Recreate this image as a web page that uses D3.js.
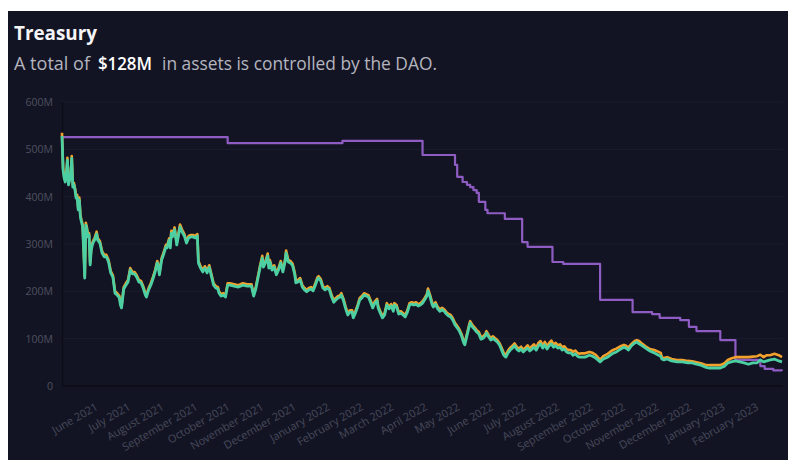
<!DOCTYPE html>
<html><head><meta charset="utf-8">
<script src="https://cdn.jsdelivr.net/npm/d3@7"></script>
<style>html,body{margin:0;padding:0;background:#fff;} svg{display:block}</style>
</head><body>
<svg id="c" width="793" height="463"></svg>
<script>
// ---------- DATA ----------
const dates = [
"2021-04-29","2021-04-30","2021-05-01","2021-05-02","2021-05-03","2021-05-04","2021-05-05","2021-05-06","2021-05-07","2021-05-08",
"2021-05-09","2021-05-10","2021-05-11","2021-05-12","2021-05-13","2021-05-14","2021-05-15","2021-05-16","2021-05-17","2021-05-18",
"2021-05-19","2021-05-20","2021-05-21","2021-05-22","2021-05-23","2021-05-24","2021-05-25","2021-05-26","2021-05-27","2021-05-28",
"2021-05-29","2021-05-30","2021-05-31","2021-06-01","2021-06-03","2021-06-05","2021-06-07","2021-06-09","2021-06-11","2021-06-13",
"2021-06-15","2021-06-17","2021-06-19","2021-06-21","2021-06-22","2021-06-23","2021-06-25","2021-06-27","2021-06-29","2021-07-01",
"2021-07-03","2021-07-05","2021-07-07","2021-07-09","2021-07-11","2021-07-13","2021-07-15","2021-07-16","2021-07-18","2021-07-20",
"2021-07-22","2021-07-24","2021-07-26","2021-07-27","2021-07-28","2021-07-30","2021-08-01","2021-08-03","2021-08-04","2021-08-06",
"2021-08-07","2021-08-08","2021-08-09","2021-08-11","2021-08-13","2021-08-15","2021-08-16","2021-08-18","2021-08-20","2021-08-22",
"2021-08-24","2021-08-26","2021-08-28","2021-08-30","2021-09-01","2021-09-02","2021-09-04","2021-09-06","2021-09-08","2021-09-10",
"2021-09-12","2021-09-14","2021-09-16","2021-09-18","2021-09-20","2021-09-21","2021-09-23","2021-09-25","2021-09-27","2021-09-29",
"2021-10-01","2021-10-05","2021-10-09","2021-10-13","2021-10-17","2021-10-21","2021-10-23","2021-10-25","2021-10-27","2021-10-29",
"2021-10-31","2021-11-01","2021-11-03","2021-11-05","2021-11-06","2021-11-07","2021-11-09","2021-11-11","2021-11-13","2021-11-15",
"2021-11-17","2021-11-19","2021-11-21","2021-11-22","2021-11-24","2021-11-26","2021-11-28","2021-11-30","2021-12-01","2021-12-03",
"2021-12-05","2021-12-07","2021-12-09","2021-12-11","2021-12-13","2021-12-15","2021-12-17","2021-12-19","2021-12-21","2021-12-22",
"2021-12-24","2021-12-26","2021-12-28","2021-12-30","2022-01-01","2022-01-03","2022-01-05","2022-01-07","2022-01-09","2022-01-11",
"2022-01-12","2022-01-14","2022-01-16","2022-01-18","2022-01-20","2022-01-22","2022-01-23","2022-01-25","2022-01-27","2022-01-29",
"2022-01-31","2022-02-02","2022-02-04","2022-02-06","2022-02-08","2022-02-10","2022-02-12","2022-02-14","2022-02-15","2022-02-17",
"2022-02-19","2022-02-21","2022-02-23","2022-02-25","2022-02-27","2022-03-01","2022-03-02","2022-03-04","2022-03-06","2022-03-08",
"2022-03-10","2022-03-12","2022-03-14","2022-03-16","2022-03-18","2022-03-20","2022-03-22","2022-03-24","2022-03-26","2022-03-28",
"2022-03-30","2022-04-01","2022-04-02","2022-04-04","2022-04-06","2022-04-07","2022-04-09","2022-04-11","2022-04-13","2022-04-15",
"2022-04-17","2022-04-19","2022-04-21","2022-04-23","2022-04-25","2022-04-27","2022-04-29","2022-05-01","2022-05-03","2022-05-05",
"2022-05-06","2022-05-08","2022-05-10","2022-05-11","2022-05-13","2022-05-15","2022-05-17","2022-05-19","2022-05-21","2022-05-23",
"2022-05-25","2022-05-26","2022-05-28","2022-05-30","2022-06-01","2022-06-03","2022-06-05","2022-06-07","2022-06-09","2022-06-11",
"2022-06-13","2022-06-15","2022-06-17","2022-06-19","2022-06-21","2022-06-23","2022-06-25","2022-06-27","2022-06-29","2022-07-01",
"2022-07-03","2022-07-05","2022-07-07","2022-07-09","2022-07-11","2022-07-13","2022-07-15","2022-07-17","2022-07-19","2022-07-21",
"2022-07-23","2022-07-25","2022-07-27","2022-07-29","2022-07-31","2022-08-02","2022-08-04","2022-08-06","2022-08-08","2022-08-10",
"2022-08-12","2022-08-14","2022-08-16","2022-08-18","2022-08-20","2022-08-22","2022-08-25","2022-08-29","2022-09-01","2022-09-04",
"2022-09-07","2022-09-08","2022-09-11","2022-09-15","2022-09-19","2022-09-23","2022-09-27","2022-09-30","2022-10-02","2022-10-04",
"2022-10-07","2022-10-10","2022-10-12","2022-10-14","2022-10-17","2022-10-20","2022-10-24","2022-10-28","2022-11-01","2022-11-03",
"2022-11-04","2022-11-06","2022-11-09","2022-11-13","2022-11-18","2022-11-23","2022-11-28","2022-12-02","2022-12-06","2022-12-10",
"2022-12-14","2022-12-18","2022-12-23","2022-12-28","2023-01-01","2023-01-04","2023-01-07","2023-01-11","2023-01-15","2023-01-19",
"2023-01-23","2023-01-27","2023-01-31","2023-02-03","2023-02-06","2023-02-09","2023-02-12","2023-02-16","2023-02-20","2023-02-23"
];
const tealValues = [
528,456,439,431,444,477,425,435,439,481,
420,425,414,397,399,372,393,357,346,338,
287,228,340,330,315,319,256,287,298,304,
308,315,321,308,302,281,273,273,262,239,
230,196,192,186,171,165,205,213,220,245,
237,237,230,220,218,207,192,188,203,213,
226,241,260,251,235,266,279,294,292,308,
292,323,315,330,298,323,336,325,317,302,
313,315,315,313,317,260,249,241,249,239,
251,232,213,207,205,196,190,192,188,213,
213,211,209,213,211,211,190,205,228,251,
270,251,260,275,249,262,245,251,235,245,
260,241,262,281,262,260,254,235,218,220,
224,209,203,199,203,205,201,213,226,228,
222,207,203,207,203,188,177,182,186,188,
192,180,163,150,156,156,144,154,167,182,
186,192,190,188,177,165,175,180,165,154,
144,150,171,163,169,158,171,167,152,154,
150,146,156,171,173,171,173,169,171,175,
182,190,201,188,171,167,173,163,158,161,
158,152,148,146,139,129,123,116,106,91,
87,106,125,133,125,120,114,110,99,101,
106,112,104,97,101,97,93,87,76,65,
61,70,76,80,85,78,74,78,72,76,
80,74,78,82,76,85,89,80,87,78,
85,89,82,85,80,82,76,78,72,70,
70,65,68,63,61,61,61,65,63,59,
53,51,57,61,68,72,78,82,80,76,
85,91,93,89,85,80,74,70,65,63,
57,55,57,53,51,51,49,49,46,44,
40,38,38,38,42,49,51,53,51,49,
46,49,49,55,51,53,55,57,53,51
];
const orangeValues = [
535,461,443,435,448,482,429,439,443,486,
424,429,418,402,404,376,398,361,350,342,
290,232,345,335,319,323,260,291,302,308,
312,319,326,312,306,285,277,277,266,243,
234,200,196,190,175,169,209,217,224,249,
241,241,234,224,222,211,196,192,207,217,
230,245,264,255,239,270,283,298,296,312,
296,328,319,335,302,328,341,330,321,306,
317,319,319,317,321,264,253,245,253,243,
255,236,217,211,209,200,194,196,192,217,
217,215,213,217,215,215,194,209,232,255,
275,255,264,280,253,266,249,255,239,249,
264,245,266,286,266,264,258,239,222,224,
228,213,207,203,207,209,205,217,230,232,
226,211,207,211,207,192,181,186,190,192,
196,184,167,154,160,160,148,158,171,186,
190,196,194,192,181,169,179,184,169,158,
148,154,175,167,173,162,175,171,156,158,
154,150,160,175,177,175,177,173,175,179,
186,194,206,192,175,171,177,167,162,165,
162,156,152,150,143,133,127,120,110,95,
91,110,129,137,129,124,118,114,103,105,
110,116,108,101,105,101,97,91,81,70,
66,75,81,85,90,83,79,83,77,81,
86,79,84,88,81,91,95,85,93,84,
91,96,88,91,86,88,82,84,78,76,
76,72,75,70,68,69,69,72,70,66,
58,55,63,68,75,79,84,87,85,81,
89,95,97,95,89,84,78,76,72,70,
61,59,61,57,55,55,53,52,50,48,
45,44,44,44,48,55,58,61,61,61,
61,62,63,66,61,65,65,68,65,61
];
const purpleDates = [
"2021-04-29","2021-09-29","2022-01-13","2022-03-28","2022-04-27","2022-04-29","2022-05-04","2022-05-08","2022-05-11","2022-05-14",
"2022-05-17","2022-05-19","2022-05-25","2022-05-27","2022-06-12","2022-06-28","2022-07-03","2022-07-26","2022-08-05","2022-09-08",
"2022-10-08","2022-10-26","2022-11-02","2022-11-21","2022-11-29","2022-12-06","2022-12-28","2023-01-11","2023-02-03","2023-02-07",
"2023-02-15","2023-02-23"
];
const purpleValues = [
526,513,518,488,467,442,431,425,420,414,
408,389,372,365,353,304,294,262,258,182,
156,152,144,139,125,116,97,55,42,36,
33,32
];
const yTicks = [0,100,200,300,400,500,600];
const yTickLabels = ["0","100M","200M","300M","400M","500M","600M"];
const xTickMonths = ["2021-06-01","2021-07-01","2021-08-01","2021-09-01","2021-10-01","2021-11-01","2021-12-01",
"2022-01-01","2022-02-01","2022-03-01","2022-04-01","2022-05-01","2022-06-01","2022-07-01","2022-08-01",
"2022-09-01","2022-10-01","2022-11-01","2022-12-01","2023-01-01","2023-02-01"];
const xDomain = ["2021-04-29","2023-02-23"];
const titleText = "Treasury";
const subtitleParts = ["A total of", "$128M", "in assets is controlled by the DAO."];

// ---------- CHART ----------
const parse = d3.utcParse("%Y-%m-%d");
const svg = d3.select("#c");
const FONT = "'Open Sans', 'Noto Sans', sans-serif";

svg.append("rect").attr("x",8).attr("y",11).attr("width",780).attr("height",449).attr("fill","#131423");

const x = d3.scaleUtc().domain(xDomain.map(parse)).range([62, 782]);
const y = d3.scaleLinear().domain([0, 600]).range([386, 102]);

// grid
svg.append("g").selectAll("line").data(yTicks.filter(v=>v>0)).join("line")
  .attr("x1",62).attr("x2",783).attr("y1",d=>y(d)).attr("y2",d=>y(d))
  .attr("stroke","#1b1c2e").attr("stroke-width",1);
// axis lines
svg.append("line").attr("x1",62.5).attr("x2",62.5).attr("y1",y(600)).attr("y2",y(0)).attr("stroke","#0c0d17").attr("stroke-width",1.5);
svg.append("line").attr("x1",62).attr("x2",783).attr("y1",y(0)).attr("y2",y(0)).attr("stroke","#0c0d17").attr("stroke-width",1.5);

// y labels
svg.append("g").selectAll("text").data(yTicks).join("text")
  .attr("x",53).attr("y",d=>y(d)+4).attr("text-anchor","end")
  .attr("font-family",FONT).attr("font-size",10.5).attr("fill","#4d5060")
  .text((d,i)=>yTickLabels[i]);

// x labels
const fmt = d3.utcFormat("%B %Y");
svg.append("g").selectAll("text").data(xTickMonths.map(parse)).join("text")
  .attr("transform",d=>`translate(${x(d)+1},409) rotate(-30)`)
  .attr("text-anchor","end")
  .attr("font-family",FONT).attr("font-size",11).attr("fill","#474a5b")
  .text(d=>fmt(d));

// lines
const series = dates.map((d,i)=>({date:parse(d), teal:tealValues[i], orange:orangeValues[i]}));
const purple = purpleDates.map((d,i)=>({date:parse(d), v:purpleValues[i]}));

svg.append("path").datum(purple)
  .attr("d", d3.line().x(d=>x(d.date)).y(d=>y(d.v)).curve(d3.curveStepAfter))
  .attr("fill","none").attr("stroke","#8e5cc2").attr("stroke-width",2.2).attr("stroke-linejoin","round");
svg.append("path").datum(series)
  .attr("d", d3.line().x(d=>x(d.date)).y(d=>y(d.orange)))
  .attr("fill","none").attr("stroke","#f2a22c").attr("stroke-width",2.6).attr("stroke-linejoin","round");
svg.append("path").datum(series)
  .attr("d", d3.line().x(d=>x(d.date)).y(d=>y(d.teal)))
  .attr("fill","none").attr("stroke","#4ccfa2").attr("stroke-width",2.8).attr("stroke-linejoin","round");

// titles
svg.append("text").attr("x",14).attr("y",40).attr("font-family",FONT).attr("font-weight",700)
  .attr("font-size",20).attr("fill","#f5f5f7").attr("textLength",83).attr("lengthAdjust","spacingAndGlyphs").text(titleText);
svg.append("text").attr("x",14).attr("y",70).attr("font-family",FONT).attr("font-size",18)
  .attr("fill","#b4b5bf").attr("textLength",76).attr("lengthAdjust","spacingAndGlyphs").text(subtitleParts[0]);
svg.append("text").attr("x",98).attr("y",70).attr("font-family",FONT).attr("font-size",18).attr("font-weight",600)
  .attr("fill","#ffffff").attr("textLength",54).attr("lengthAdjust","spacingAndGlyphs").text(subtitleParts[1]);
svg.append("text").attr("x",162).attr("y",70).attr("font-family",FONT).attr("font-size",18)
  .attr("fill","#b4b5bf").attr("textLength",275).attr("lengthAdjust","spacingAndGlyphs").text(subtitleParts[2]);
</script>
</body></html>
